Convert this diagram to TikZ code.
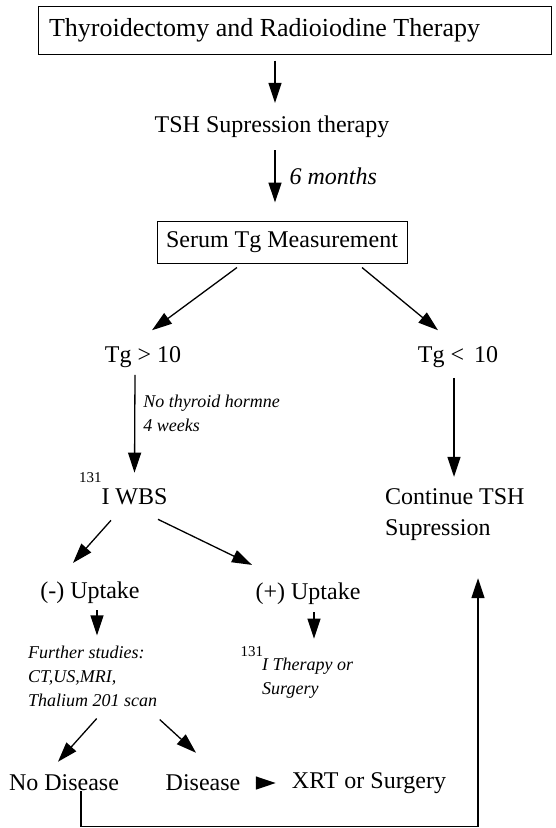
\documentclass[tikz,border=0pt]{standalone}
\usepackage{fontspec}
\setmainfont{Liberation Serif}
\usetikzlibrary{positioning,arrows.meta}

\begin{document}
\begin{tikzpicture}[x=1pt,y=-1pt,
  txt/.style={inner sep=0pt,align=left,font=\fontsize{24}{31}\selectfont},
  box/.style={draw,line width=1pt,inner sep=0pt},
  note/.style={inner sep=0pt,align=left,font=\fontsize{18}{24}\selectfont\itshape},
  arr/.style={-{Triangle[length=20pt,width=13pt]},line width=1.3pt}]
\useasboundingbox (0,0) rectangle (556,828);
\node[box,minimum width=513pt,minimum height=48pt,font=\fontsize{26}{30}\selectfont] (top) at (294.5,30) {\makebox[491pt][l]{Thyroidectomy and Radioiodine Therapy}};
\node[txt] (tsh) at (272,127) {TSH Supression therapy};
\node[box,txt,minimum width=250pt,minimum height=42pt] (serum) at (282,242) {Serum Tg Measurement};
\node[txt] (tghi) at (143,357) {Tg > 10};
\node[txt] (tglo) at (458,357) {Tg <\, 10};
\node[txt] (wbs) at (134.5,497) {\smash{\llap{\raisebox{22pt}{\fontsize{15}{15}\selectfont 131}}}I WBS};
\node[txt,anchor=west] (cont) at (385,515) {Continue TSH\\Supression};
\node[txt] (neg) at (90,593) {(-) Uptake};
\node[txt] (pos) at (308,594) {(+) Uptake};
\node[note,anchor=west] (further) at (28,676) {Further studies:\\CT,US,MRI,\\Thalium 201 scan};
\node[note,anchor=west] (ther) at (262,678) {\smash{\llap{\raisebox{14pt}{\fontsize{15}{15}\selectfont\upshape 131}\kern-1pt}}I Therapy or\\Surgery};
\node[txt] (nodis) at (64,783) {No Disease};
\node[txt] (dis) at (203,783) {Disease};
\node[txt] (xrt) at (369,783) {XRT or Surgery};
% main line
\draw[arr] ([xshift=3pt,yshift=-6pt]tsh.north |- top.south) -- ([xshift=3pt,yshift=13pt]tsh.north);
\draw[arr] ([xshift=3pt,yshift=-12pt]tsh.south) -- node[right=14pt,inner sep=0pt,font=\fontsize{24}{28}\selectfont\itshape] {6 months} ([xshift=3pt,yshift=18pt]tsh.south |- serum.north);
\draw[arr] ([xshift=-45pt,yshift=-4pt]serum.south) -- ([xshift=9pt,yshift=16pt]tghi.north);
\draw[arr] ([xshift=80pt,yshift=-4pt]serum.south) -- ([xshift=-20pt,yshift=16pt]tglo.north);
\draw[arr] ([xshift=-8pt,yshift=-7pt]tghi.south) -- node[note,right=8pt,pos=0.39] {No thyroid hormne\\4 weeks} ([yshift=16pt]wbs.north);
\draw[arr] ([xshift=-4pt,yshift=-10pt]tglo.south) -- ([xshift=-4pt,yshift=12pt]tglo.south |- cont.north);
% scan results
\draw[arr] ([xshift=-23.5pt,yshift=-15pt]wbs.south) -- ([xshift=-17pt,yshift=19pt]neg.north);
\draw[arr] ([xshift=23.5pt,yshift=-14pt]wbs.south) -- ([xshift=-56pt,yshift=18pt]pos.north);
\draw[arr] ([xshift=7pt,yshift=-6pt]neg.south) -- ([xshift=7pt,yshift=10pt]neg.south |- further.north);
\draw[arr] ([xshift=6pt,yshift=-7pt]pos.south) -- ([xshift=6pt,yshift=19pt]pos.south |- ther.north);
\draw[arr] ([xshift=4pt,yshift=-12pt]further.south) -- ([xshift=-6pt,yshift=13pt]nodis.north);
\draw[arr] ([xshift=67pt,yshift=-13pt]further.south) -- ([xshift=-7pt,yshift=22pt]dis.north);
\draw[arr] ([xshift=15pt]dis.east) -- ([xshift=-16pt]xrt.west);
% back to TSH supression
\draw[arr] ([xshift=17pt]nodis.south) -- ++(0,35) -| ([xshift=93pt,yshift=-37pt]cont.south west);
\end{tikzpicture}
\end{document}
